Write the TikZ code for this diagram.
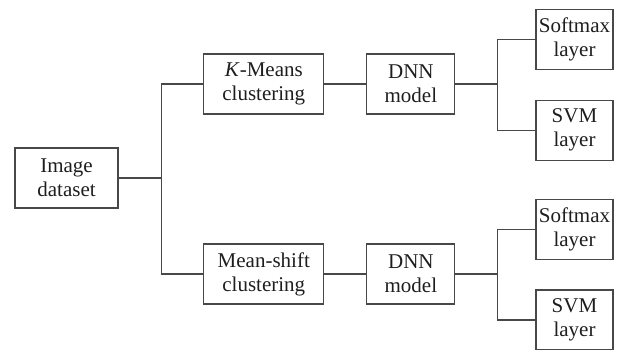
\documentclass[tikz,border=0pt]{standalone}
\usepackage{fontspec}
\setmainfont{Liberation Serif}
\usepackage{tikz}
\usetikzlibrary{positioning}
\definecolor{linegray}{RGB}{72,72,72}
\definecolor{textgray}{RGB}{30,30,30}
\tikzset{
-, % plain connectors, no arrow heads
node distance=42pt, % gap between two boxes of one row
block/.style={draw=linegray, line width=1.1pt, text=textgray, align=center, minimum height=60pt, inner sep=2pt, font=\fontsize{21}{24}\selectfont}, % every box of the chart
link/.style={draw=linegray, line width=1.1pt}, % the elbow lines
}

\begin{document}
\begin{tikzpicture}
      \useasboundingbox (-66.5pt,178pt) rectangle (555.5pt,-171pt);
      \node[block, minimum width=103pt] (img) {Image\\dataset};
      \node[block, minimum width=120pt, right=84.7pt of img, yshift=94pt] (kmeans) {\textit{K}-Means\\clustering};
      \node[block, minimum width=120pt, right=84.7pt of img, yshift=-96pt] (mshift) {Mean-shift\\clustering};
      \node[block, minimum width=88pt, right=of kmeans] (dnnA) {DNN\\model};
      \node[block, minimum width=88pt, right=of mshift] (dnnB) {DNN\\model};
      \node[block, minimum width=77pt, right=80pt of dnnA, yshift=44.7pt] (softA) {Softmax\\layer};
      \node[block, minimum width=77pt, right=80pt of dnnA, yshift=-46.3pt] (svmA) {SVM\\layer};
      \node[block, minimum width=77pt, right=80pt of dnnB, yshift=44.7pt] (softB) {Softmax\\layer};
      \node[block, minimum width=77pt, right=80pt of dnnB, yshift=-46pt] (svmB) {SVM\\layer};

      \draw[link] (img.east) -- ++(43pt,0) |- (kmeans.west)
      (img.east) -- ++(43pt,0) |- (mshift.west)
      (kmeans) -- (dnnA)
      (mshift) -- (dnnB)
      (dnnA.east) -- ++(41.6pt,0) |- (softA.west)
      (dnnA.east) -- ++(41.6pt,0) |- (svmA.west)
      (dnnB.east) -- ++(41.6pt,0) |- (softB.west)
      (dnnB.east) -- ++(41.6pt,0) |- (svmB.west);
    \end{tikzpicture}
\end{document}
